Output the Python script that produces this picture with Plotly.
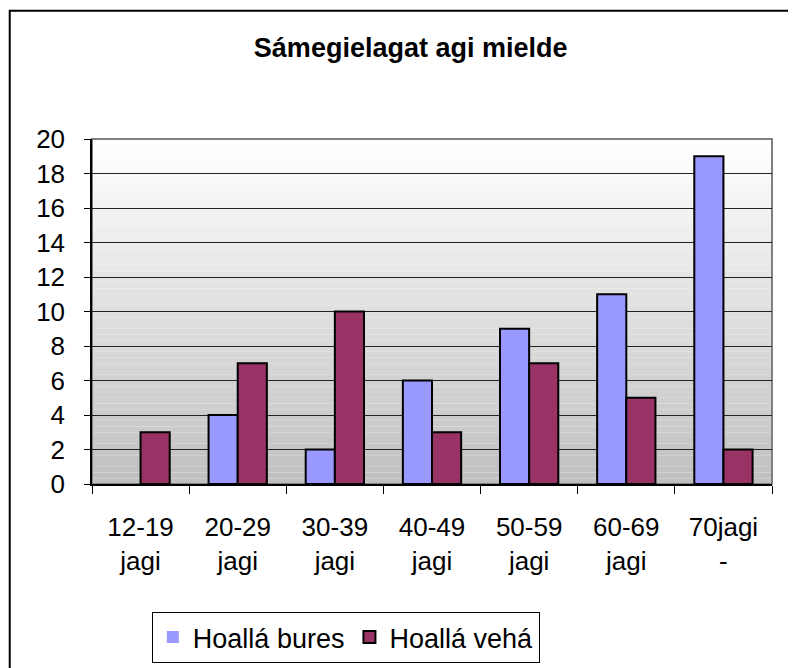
import plotly.graph_objects as go

categories = ["12-19<br>jagi", "20-29<br>jagi", "30-39<br>jagi", "40-49<br>jagi",
              "50-59<br>jagi", "60-69<br>jagi", "70jagi<br>-"]
bures = [0, 4, 2, 6, 9, 11, 19]
veha = [3, 7, 10, 3, 7, 5, 2]
y_ticks = list(range(0, 21, 2))

FONT = "Liberation Sans, Arial, sans-serif"
W, H = 788, 660  # page body has an 8px margin


def outline(vals):
    return [0 if v == 0 else 2 for v in vals]


fig = go.Figure()
fig.add_trace(go.Bar(x=categories, y=bures, name="Hoallá bures",
                     marker=dict(color="#9999FF",
                                 line=dict(color="black", width=outline(bures)))))
fig.add_trace(go.Bar(x=categories, y=veha, name="Hoallá vehá",
                     marker=dict(color="#993366",
                                 line=dict(color="black", width=outline(veha)))))

shapes = []
N = 60
for i in range(N):
    t = i / (N - 1)
    v = int(round(255 - (255 - 192) * (1 - t)))
    shapes.append(dict(type="rect", xref="paper", yref="paper", x0=0, x1=1,
                       y0=i / N, y1=(i + 1) / N, layer="below",
                       fillcolor=f"rgb({v},{v},{v})", line=dict(width=0)))
shapes.append(dict(type="rect", xref="paper", yref="paper", x0=0, x1=1, y0=0, y1=1,
                   layer="below", line=dict(color="#808080", width=2)))
shapes.append(dict(type="rect", xref="paper", yref="paper", x0=-0.121, x1=2,
                   y0=-2, y1=1.372, line=dict(color="black", width=2)))

fig.update_layout(
    width=W, height=H,
    margin=dict(l=84, r=24, t=131, b=184, autoexpand=False),
    paper_bgcolor="white", plot_bgcolor="rgba(0,0,0,0)",
    font=dict(family=FONT, size=26, color="black"),
    title=dict(text="<b>Sámegielagat agi mielde</b>", x=0.511, xanchor="center",
               y=1 - 40 / H, yanchor="middle", font=dict(size=27, family=FONT)),
    barmode="group", bargap=0.4, bargroupgap=0,
    showlegend=True,
    legend=dict(orientation="h", x=0.088, y=-0.371, xanchor="left", yanchor="top",
                bgcolor="white", bordercolor="black", borderwidth=1,
                font=dict(size=27, family=FONT), traceorder="normal"),
    shapes=shapes,
)
fig.update_xaxes(showline=True, linecolor="black", linewidth=1.5, automargin=False,
                 ticks="outside", ticklen=8, tickcolor="black", tickson="boundaries",
                 showgrid=False, tickfont=dict(size=26), ticklabelstandoff=19)
fig.update_yaxes(range=[0, 20], tickvals=y_ticks, showline=True, linecolor="black",
                 linewidth=1.5, ticks="outside", ticklen=6, tickcolor="black",
                 automargin=False,
                 showgrid=True, gridcolor="#222", gridwidth=1, zeroline=False,
                 tickfont=dict(size=26), ticklabelstandoff=14)

fig.write_html("out.html")
